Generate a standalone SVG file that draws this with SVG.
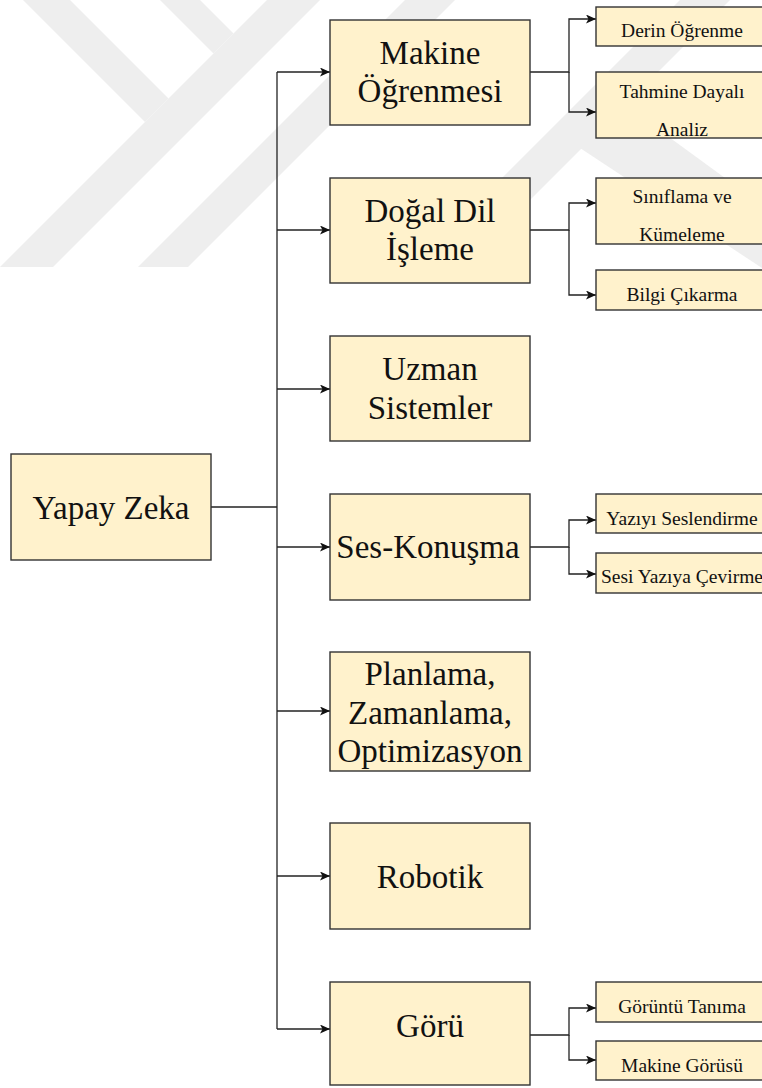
<svg xmlns="http://www.w3.org/2000/svg" width="762" height="1088" viewBox="0 0 762 1088">
  <style>
    .box { fill: #fff2cc; stroke: #333333; stroke-width: 1.4; }
    .main { font-family: "Liberation Serif", "Times New Roman", serif; font-size: 33px; fill: #111111; text-anchor: middle; }
    .sub { font-family: "Liberation Serif", "Times New Roman", serif; font-size: 19.5px; fill: #111111; text-anchor: middle; }
    .wire { fill: none; stroke: #222222; stroke-width: 1.3; }
    .wm { fill: #eeeeee; }
  </style>
  <defs>
    <marker id="arrow" markerUnits="userSpaceOnUse" markerWidth="11" markerHeight="9" refX="10" refY="4.5" orient="auto">
      <path d="M0,0 L10,4.5 L0,9 L2.5,4.5 Z" fill="#111111"/>
    </marker>
  </defs>

  <rect width="762" height="1088" fill="#ffffff"/>

  <!-- faint background logo bands -->
  <g id="watermark">
    <polygon class="wm" points="23,0 70,0 168.5,98.5 145,122"/>
    <polygon class="wm" points="0,267 53,267 320,0 267,0"/>
    <polygon class="wm" points="160,0 200,0 233.5,33.5 213.5,53.5"/>
    <polygon class="wm" points="138,267 188,267 455,0 405,0"/>
    <polygon class="wm" points="680,0 730,0 463,267 413,267"/>
    <polygon class="wm" points="625,105 762,205 762,268 580,148"/>
  </g>

  <!-- connectors -->
  <g id="connectors">
    <path class="wire" d="M211,507 H277"/>
    <path class="wire" d="M277,72 V1029"/>
    <path class="wire" d="M277,72 H330" marker-end="url(#arrow)"/>
    <path class="wire" d="M277,230 H330" marker-end="url(#arrow)"/>
    <path class="wire" d="M277,389 H330" marker-end="url(#arrow)"/>
    <path class="wire" d="M277,547 H330" marker-end="url(#arrow)"/>
    <path class="wire" d="M277,711 H330" marker-end="url(#arrow)"/>
    <path class="wire" d="M277,876 H330" marker-end="url(#arrow)"/>
    <path class="wire" d="M277,1029 H330" marker-end="url(#arrow)"/>

    <path class="wire" d="M530,72 H569 V19 H596" marker-end="url(#arrow)"/>
    <path class="wire" d="M569,72 V112 H596" marker-end="url(#arrow)"/>
    <path class="wire" d="M530,230 H569 V203 H596" marker-end="url(#arrow)"/>
    <path class="wire" d="M569,230 V295 H596" marker-end="url(#arrow)"/>
    <path class="wire" d="M530,547 H569 V520 H596" marker-end="url(#arrow)"/>
    <path class="wire" d="M569,547 V574 H596" marker-end="url(#arrow)"/>
    <path class="wire" d="M530,1035 H569 V1008 H596" marker-end="url(#arrow)"/>
    <path class="wire" d="M569,1035 V1060 H596" marker-end="url(#arrow)"/>
  </g>

  <!-- root -->
  <g id="yapay-zeka">
    <rect class="box" x="11" y="454" width="200" height="106"/>
    <text class="main" x="111" y="519">Yapay Zeka</text>
  </g>

  <!-- main branches -->
  <g id="makine-ogrenmesi">
    <rect class="box" x="330" y="20" width="200" height="105"/>
    <text class="main" x="430" y="64">Makine</text>
    <text class="main" x="430" y="102">Öğrenmesi</text>
  </g>
  <g id="dogal-dil-isleme">
    <rect class="box" x="330" y="178" width="200" height="105"/>
    <text class="main" x="430" y="222">Doğal Dil</text>
    <text class="main" x="430" y="260">İşleme</text>
  </g>
  <g id="uzman-sistemler">
    <rect class="box" x="330" y="336" width="200" height="105"/>
    <text class="main" x="430" y="380">Uzman</text>
    <text class="main" x="430" y="419">Sistemler</text>
  </g>
  <g id="ses-konusma">
    <rect class="box" x="330" y="494" width="200" height="106"/>
    <text class="main" x="428" y="558">Ses-Konuşma</text>
  </g>
  <g id="planlama">
    <rect class="box" x="330" y="652" width="200" height="119"/>
    <text class="main" x="430" y="685">Planlama,</text>
    <text class="main" x="430" y="724">Zamanlama,</text>
    <text class="main" x="430" y="762">Optimizasyon</text>
  </g>
  <g id="robotik">
    <rect class="box" x="330" y="823" width="200" height="106"/>
    <text class="main" x="430" y="888">Robotik</text>
  </g>
  <g id="goru">
    <rect class="box" x="330" y="982" width="200" height="103"/>
    <text class="main" x="430" y="1037">Görü</text>
  </g>

  <!-- leaf topics -->
  <g id="derin-ogrenme">
    <rect class="box" x="596" y="7" width="172" height="39"/>
    <text class="sub" x="682" y="37">Derin Öğrenme</text>
  </g>
  <g id="tahmine-dayali-analiz">
    <rect class="box" x="596" y="72" width="172" height="66"/>
    <text class="sub" x="682" y="98">Tahmine Dayalı</text>
    <text class="sub" x="682" y="136">Analiz</text>
  </g>
  <g id="siniflama-kumeleme">
    <rect class="box" x="596" y="178" width="172" height="66"/>
    <text class="sub" x="682" y="203">Sınıflama ve</text>
    <text class="sub" x="682" y="241">Kümeleme</text>
  </g>
  <g id="bilgi-cikarma">
    <rect class="box" x="596" y="270" width="172" height="40"/>
    <text class="sub" x="682" y="301">Bilgi Çıkarma</text>
  </g>
  <g id="yaziyi-seslendirme">
    <rect class="box" x="596" y="494" width="172" height="39"/>
    <text class="sub" x="682" y="525">Yazıyı Seslendirme</text>
  </g>
  <g id="sesi-yaziya-cevirme">
    <rect class="box" x="596" y="553" width="172" height="40"/>
    <text class="sub" x="682" y="583">Sesi Yazıya Çevirme</text>
  </g>
  <g id="goruntu-tanima">
    <rect class="box" x="596" y="982" width="172" height="40"/>
    <text class="sub" x="682" y="1013">Görüntü Tanıma</text>
  </g>
  <g id="makine-gorusu">
    <rect class="box" x="596" y="1041" width="172" height="39"/>
    <text class="sub" x="682" y="1072">Makine Görüsü</text>
  </g>
</svg>
